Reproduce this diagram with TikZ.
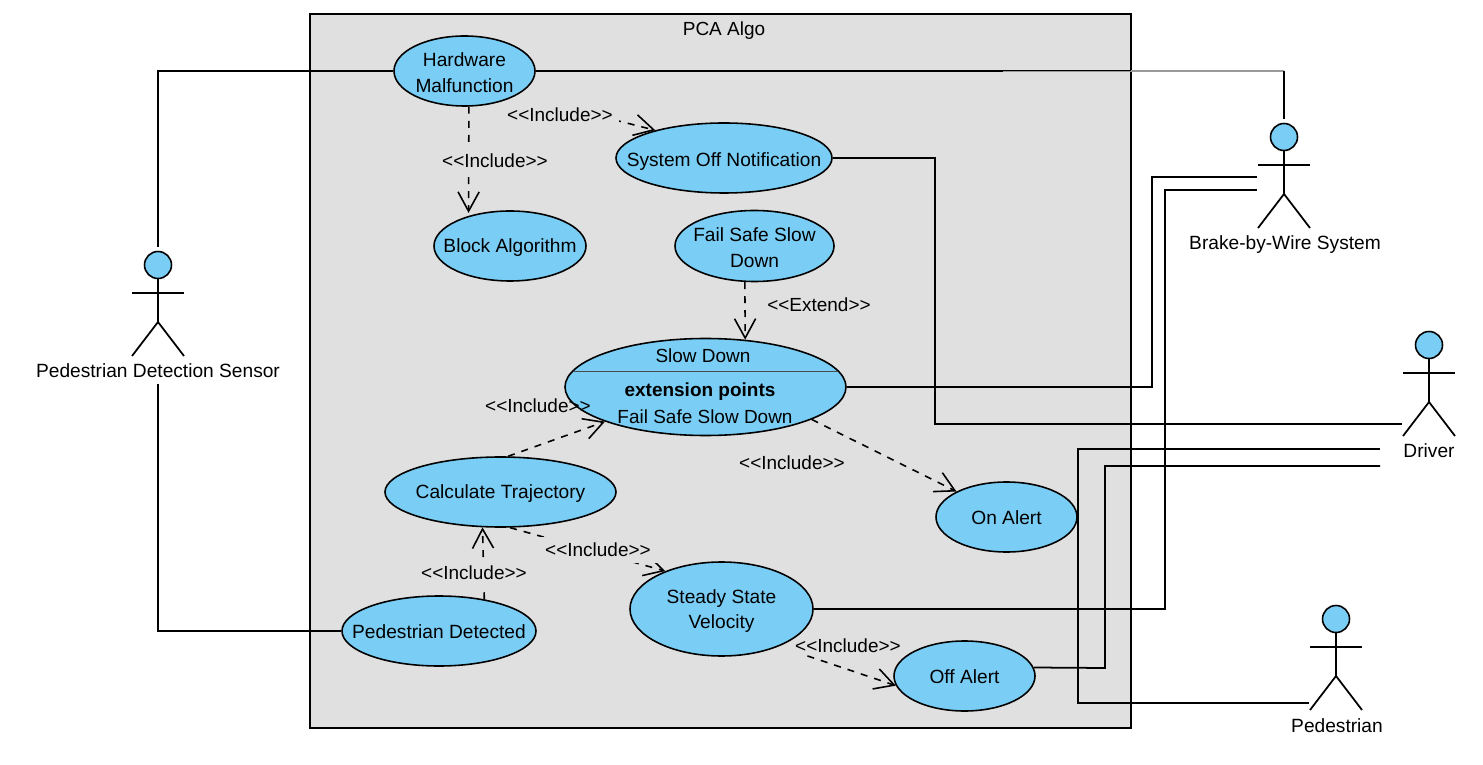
\documentclass[tikz,border=0pt]{standalone}
\usepackage{fontspec}
\usepackage{tikz}
\usetikzlibrary{shapes.geometric,arrows.meta}
\setmainfont{Liberation Sans}
\definecolor{ucblue}{HTML}{7ACEF6}
\definecolor{framegray}{HTML}{E0E0E0}
\newcommand{\inclabel}{<{}<Include>{}>}
\newcommand{\extlabel}{<{}<Extend>{}>}
\tikzset{
    usecase/.style 2 args={ellipse,draw,fill=ucblue,line width=0.9pt,inner sep=0pt,minimum width=#1*0.2mm,minimum height=#2*0.2mm},
    every label/.style={align=center,inner sep=0pt,yshift=-0.4mm,font=\fontsize{10.9}{14.7}\selectfont},
    head/.style={circle,draw,fill=ucblue,line width=0.9pt,inner sep=0pt,minimum size=5.4mm,outer sep=0.8mm},
    wire/.style={line width=1pt},
    dep/.style={line width=0.9pt,dash pattern=on 4pt off 4pt,-{Straight Barb[length=11pt,width=12pt]}},
    stereo/.style={inner sep=1.5pt,font=\fontsize{10.8}{12}\selectfont},
    stereomask/.style={stereo,inner sep=3.5pt,fill=framegray},
    actorlabel/.style={inner sep=3pt,font=\fontsize{10.9}{12}\selectfont}
}
\begin{document}
\begin{tikzpicture}[x=0.2mm,y=-0.2mm]
    \useasboundingbox (0,0) rectangle (1483,765);
    \node[draw,fill=framegray,line width=0.9pt,inner sep=0pt,minimum width=164.2mm,minimum height=142.8mm] (pca) at (720.5,371) {};
    \node[stereo] (pcalabel) at (724,31) {PCA Algo};

    \node[usecase={141}{70},label=center:{Hardware\\Malfunction}] (hw) at (464.5,71) {};
    \node[usecase={216}{70},label={[yshift=-0.4mm]center:{System Off Notification}}] (sysoff) at (724,158) {};
    \node[usecase={152}{70},label=center:{Block Algorithm}] (block) at (510,246) {};
    \node[usecase={159}{71},label=center:{Fail Safe Slow\\Down}] (fail) at (754.5,246) {};
    \node[usecase={281}{97}] (slow) at (705.5,387) {};
    \node[usecase={231}{70},label=center:{Calculate Trajectory}] (calc) at (500.5,492) {};
    \node[usecase={141}{70},label={[yshift=0.2mm]center:{On Alert}}] (onalert) at (1006.5,517) {};
    \node[usecase={183}{94},label=center:{Steady State\\Velocity}] (steady) at (721.5,609) {};
    \node[usecase={194}{70},label={[yshift=0.2mm]center:{Pedestrian Detected}}] (ped) at (439,631) {};
    \node[usecase={141}{70},label={[yshift=0.2mm]center:{Off Alert}}] (off) at (964.5,676) {};

    \draw[line width=0.4pt,black!70] (573,371) -- (838,371);
    \node[stereo] (slowtitle) at (703,356) {Slow Down};
    \node[stereo] (slowext) at (700,392) {\bfseries extension points};
    \node[stereo] (slowfail) at (705,417) {Fail Safe Slow Down};

    \foreach \name/\x/\y in {sensor/158/265,brake/1284/137,driver/1429/345,pedestrian/1336/619} {
        \draw[wire] (\x,\y+13) -- (\x,\y+57);
        \draw[wire] (\x-26,\y+28) -- (\x+26,\y+28);
        \draw[wire] (\x-26,\y+91) -- (\x,\y+57) -- (\x+26,\y+91);
        \node[head] (\name) at (\x,\y) {};
    }
    \node[actorlabel] (sensorlabel) at (158,371) {Pedestrian Detection Sensor};
    \node[actorlabel] (brakelabel) at (1285,245) {Brake-by-Wire System};
    \node[actorlabel] (driverlabel) at (1429,451) {Driver};
    \node[actorlabel] (pedestrianlabel) at (1337,726) {Pedestrian};

    \coordinate (brakeA) at (1257,177);
    \coordinate (brakeB) at (1257,190);
    \coordinate (driverA) at (1402,424);
    \coordinate (driverB) at (1380,449);
    \coordinate (driverC) at (1380,466);
    \coordinate (pedestrianA) at (1309,703);
    \coordinate (hwfade) at (1003,71);
    \coordinate (hwcorner) at (1284,71);

    \draw[wire] (hw) -| (sensor);
    \draw[wire] (sensorlabel) |- (ped);
    \draw[wire] (hw) -- (hwfade);
    \draw[line width=1.1pt,black!40] (hwfade) -- (hwcorner);
    \draw[line width=0.3pt,black] (1003,70.3) -- (1131,70.3);
    \draw[wire] (hwcorner) -- (brake);
    \draw[wire] (sysoff) -- (935,158) |- (driverA);
    \draw[wire] (slow) -- (1152,387) |- (brakeA);
    \draw[wire] (steady) -- (1165,609) |- (brakeB);
    \draw[wire] (onalert.east) |- (driverB);
    \draw[wire] (onalert.east) |- (pedestrianA);
    \draw[wire] (off.7) -- (1105,668) |- (driverC);

    \draw[dep,shorten >=0.6mm] (hw.277) -- (block.144);
    \draw[dep,shorten <=6mm] (hw.335) -- (sysoff.158);
    \draw[dep] (fail.255) -- (slow.50);
    \draw[dep] (calc.78) -- (slow.199);
    \draw[dep] (slow.343) -- (onalert.153);
    \draw[dep] (calc.285) -- (steady.146);
    \draw[dep] (ped.35) -- (calc.243);
    \draw[dep,shorten <=6mm] (steady.327) -- (off.188);

    \node[stereomask] (inclblock) at (495,161) {\inclabel};
    \node[stereomask] (inclsysoff) at (560,115) {\inclabel};
    \node[stereomask] (extfail) at (819,305) {\extlabel};
    \node[stereo] (inclslow) at (538,406) {\inclabel};
    \node[stereo] (inclalert) at (792,463) {\inclabel};
    \node[stereomask] (inclsteady) at (598,550) {\inclabel};
    \node[stereomask] (inclcalc) at (474,573) {\inclabel};
    \node[stereo] (incloff) at (848,646) {\inclabel};
\end{tikzpicture}
\end{document}
